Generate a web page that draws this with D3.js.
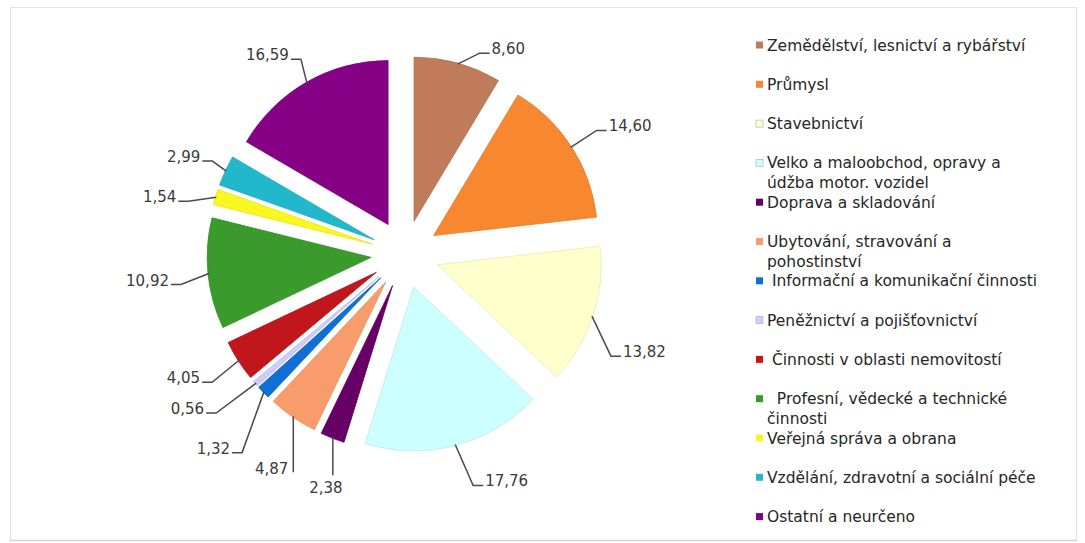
<!DOCTYPE html>
<html>
<head>
<meta charset="utf-8">
<script src="https://cdn.jsdelivr.net/npm/d3@7"></script>
<style>
  html, body { margin: 0; padding: 0; background: #ffffff; }
  svg { display: block; font-family: "DejaVu Sans", Verdana, sans-serif; }
</style>
</head>
<body>
<svg id="chart" width="1085" height="543"></svg>
<script>
// Sector shares (%), clockwise from 12 o'clock
const categories = [
  "Zemědělství, lesnictví a rybářství",
  "Průmysl",
  "Stavebnictví",
  "Velko a maloobchod, opravy a\núdžba motor. vozidel",
  "Doprava a skladování",
  "Ubytování, stravování a\npohostinství",
  " Informační a komunikační činnosti",
  "Peněžnictví a pojišťovnictví",
  " Činnosti v oblasti nemovitostí",
  "  Profesní, vědecké a technické\nčinnosti",
  "Veřejná správa a obrana",
  "Vzdělání, zdravotní a sociální péče",
  "Ostatní a neurčeno"
];
const shares = [8.60, 14.60, 13.82, 17.76, 2.38, 4.87, 1.32, 0.56, 4.05, 10.92, 1.54, 2.99, 16.59];
const colors = [
  "#c07b5b", "#f7882f", "#ffffcc", "#ccffff", "#660066", "#f99c6c", "#0f6fd6",
  "#ccccff", "#c0161c", "#3a9a2c", "#f8f820", "#22b8cc", "#850085"
];

// Leader-line bend (px from the slice's outer midpoint) and label placement
const leaderBend = [
  [22, -11], [26, -17], [19, 40], [18, 41], [0, 38], [0, 56], [-22, 61],
  [-40, 30], [-27, 22], [-28, 11], [-28, 4], [-14, -10], [-6, -24]
];
const labelPlacement = ["side", "side", "side", "side", "below", "beside", "side",
  "side", "side", "side", "side", "side", "side"];

const W = 1085, H = 543;
const cx = 405, cy = 254, radius = 164, explode = 34;
const legendX = 756, legendY = 45, legendStep = 39.3;

const svg = d3.select("#chart");

// Frame with a soft left shadow
const defs = svg.append("defs");
defs.append("filter").attr("id", "soft")
  .append("feGaussianBlur").attr("stdDeviation", 1.2);
svg.append("rect")
  .attr("x", 10.5).attr("y", 7.5).attr("width", 1066).attr("height", 533)
  .attr("fill", "#ffffff").attr("stroke", "#e2e2e2").attr("stroke-width", 1);
svg.append("line")
  .attr("x1", 11).attr("x2", 11).attr("y1", 8).attr("y2", 540)
  .attr("stroke", "#c4c4c4").attr("stroke-width", 3).attr("filter", "url(#soft)");
svg.append("line")
  .attr("x1", 10).attr("x2", 1077).attr("y1", 540.5).attr("y2", 540.5)
  .attr("stroke", "#d4d4d4").attr("stroke-width", 1.5);

const pie = d3.pie().sort(null).value(d => d)(shares);
const arc = d3.arc().innerRadius(0).outerRadius(radius);
const fmt = v => d3.format(".2f")(v).replace(".", ",");

const g = svg.append("g").attr("transform", `translate(${cx},${cy})`);

const dirOf = d => {
  const a = (d.startAngle + d.endAngle) / 2;
  return [Math.sin(a), -Math.cos(a)];
};

// Exploded slices
g.selectAll("path.slice")
  .data(pie)
  .join("path")
  .attr("class", "slice")
  .attr("transform", d => {
    const [ux, uy] = dirOf(d);
    return `translate(${ux * explode},${uy * explode})`;
  })
  .attr("d", arc)
  .attr("fill", (d, i) => colors[i])
  .attr("stroke", (d, i) => d3.color(colors[i]).darker(0.25))
  .attr("stroke-width", 0.8)
  .attr("stroke-linejoin", "round");

// Value labels with leader lines
const labels = g.append("g");
pie.forEach((d, i) => {
  const [ux, uy] = dirOf(d);
  const r0 = explode + radius - 1;
  const p0 = [ux * r0, uy * r0];
  const [bx, by] = leaderBend[i];
  const p1 = [p0[0] + bx, p0[1] + by];
  const text = fmt(shares[i]);
  let path, tx, ty, anchor;
  if (labelPlacement[i] === "side") {
    const s = bx >= 0 ? 1 : -1;
    const p2 = [p1[0] + s * 10, p1[1]];
    path = d3.line()([p0, p1, p2]);
    tx = p2[0] + s * 2; ty = p1[1] + 1; anchor = s > 0 ? "start" : "end";
  } else if (labelPlacement[i] === "below") {
    path = d3.line()([p0, p1]);
    tx = p1[0] - 7; ty = p1[1] + 18; anchor = "middle";
  } else {
    path = d3.line()([p0, p1]);
    tx = p1[0] - 5; ty = p1[1] + 2; anchor = "end";
  }
  labels.append("path")
    .attr("d", path)
    .attr("fill", "none")
    .attr("stroke", "#4a4a4a")
    .attr("stroke-width", 1.5);
  labels.append("text")
    .attr("x", tx).attr("y", ty)
    .attr("text-anchor", anchor)
    .attr("font-size", 15)
    .attr("fill", "#3a3a3a")
    .text(text);
});

// Legend
const legend = svg.append("g");
categories.forEach((name, i) => {
  const y = legendY + i * legendStep;
  const pale = d3.hsl(colors[i]).l > 0.85;
  legend.append("rect")
    .attr("x", legendX).attr("y", y - 3.5)
    .attr("width", 7).attr("height", 7)
    .attr("fill", colors[i])
    .attr("stroke", pale ? "#bdbdbd" : "none")
    .attr("stroke-width", 0.8);
  const t = legend.append("text")
    .attr("x", legendX + 11).attr("y", y + 5.5)
    .attr("font-size", 15.5)
    .attr("fill", "#262626")
    .style("white-space", "pre");
  name.split("\n").forEach((line, k) => {
    t.append("tspan")
      .attr("x", legendX + 11)
      .attr("dy", k === 0 ? 0 : 19.5)
      .text(line);
  });
});
</script>
</body>
</html>
